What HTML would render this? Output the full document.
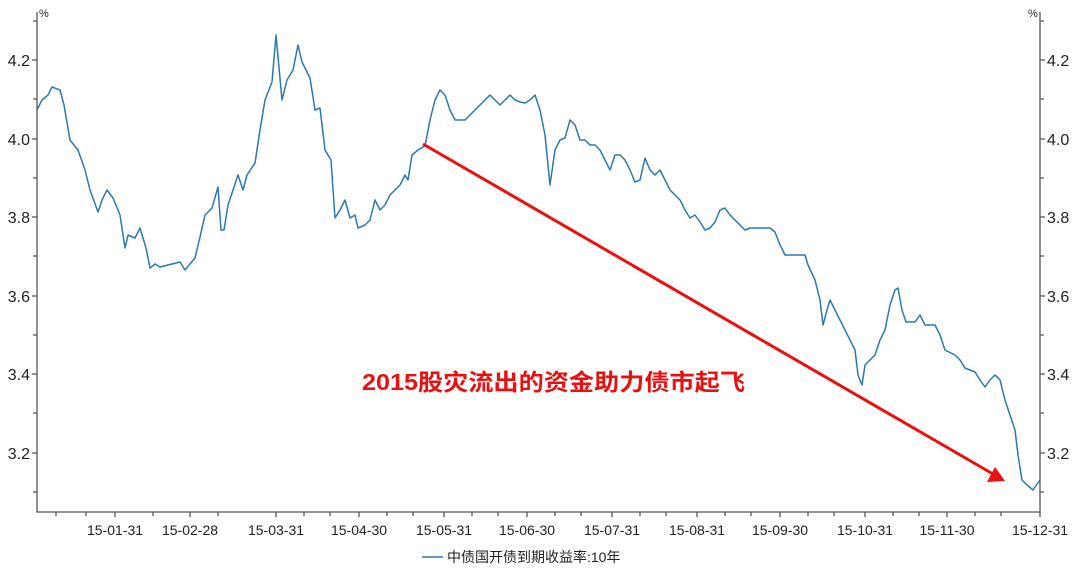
<!DOCTYPE html>
<html><head><meta charset="utf-8"><style>
body{margin:0;background:#fff}
svg text{font-family:"Liberation Sans","Noto Sans CJK SC",sans-serif;fill:#222}
</style></head><body>
<svg width="1080" height="570" xmlns="http://www.w3.org/2000/svg">
<g stroke="#555" stroke-width="1.3" fill="none">
<path d="M37,12V512H1040V12"/>
<path d="M32,60H37M32,139H37M32,217H37M32,296H37M32,374H37M32,453H37M33,21H37M33,99H37M33,178H37M33,256H37M33,335H37M33,413H37M33,492H37"/>
<path d="M1040,60H1045M1040,139H1045M1040,217H1045M1040,296H1045M1040,374H1045M1040,453H1045M1040,21H1044M1040,99H1044M1040,178H1044M1040,256H1044M1040,335H1044M1040,413H1044M1040,492H1044"/>
<path d="M115,512v5M190,512v5M276,512v5M359,512v5M444,512v5M527,512v5M612,512v5M697,512v5M780,512v5M865,512v5M947,512v5M1040,512v5"/>
<path d="M56,512v4M86,512v4M153,512v4M218,512v4M304,512v4M330,512v4M387,512v4M413,512v4M472,512v4M498,512v4M555,512v4M581,512v4M640,512v4M666,512v4M725,512v4M751,512v4M808,512v4M834,512v4M893,512v4M919,512v4M975,512v4M1001,512v4"/>
</g>
<g font-size="16">
<text x="30" y="66" text-anchor="end">4.2</text><text x="30" y="145" text-anchor="end">4.0</text><text x="30" y="223" text-anchor="end">3.8</text><text x="30" y="302" text-anchor="end">3.6</text><text x="30" y="380" text-anchor="end">3.4</text><text x="30" y="459" text-anchor="end">3.2</text>
<text x="1047" y="66">4.2</text><text x="1047" y="145">4.0</text><text x="1047" y="223">3.8</text><text x="1047" y="302">3.6</text><text x="1047" y="380">3.4</text><text x="1047" y="459">3.2</text>
</g>
<text x="39" y="17" font-size="11">%</text><text x="1028" y="17" font-size="11">%</text>
<g font-size="14" text-anchor="middle">
<text x="115" y="535">15-01-31</text><text x="190" y="535">15-02-28</text><text x="276" y="535">15-03-31</text><text x="359" y="535">15-04-30</text><text x="444" y="535">15-05-31</text><text x="527" y="535">15-06-30</text><text x="612" y="535">15-07-31</text><text x="697" y="535">15-08-31</text><text x="780" y="535">15-09-30</text><text x="865" y="535">15-10-31</text><text x="947" y="535">15-11-30</text><text x="1040" y="535">15-12-31</text>
</g>
<polyline fill="none" stroke="#2a7ab0" stroke-width="1.5" stroke-linejoin="round" points="37,110 42,100 48,95 52,87 60,90 64,105 70,140 78,150 85,170 90,190 98,212 102,200 107,190 113,198 120,215 125,248 128,235 135,238 140,228 146,248 150,268 155,264 160,267 180,262 185,270 190,264 195,258 200,237 205,215 212,208 218,187 221,230 224,230 228,205 238,175 243,190 247,175 255,163 260,130 265,100 272,82 276,35 282,100 287,80 293,70 298,45 302,62 310,78 315,110 320,108 325,150 331,160 335,218 340,210 345,200 350,218 355,215 358,228 365,225 370,220 375,200 380,210 385,205 390,195 395,190 400,185 405,175 408,180 412,155 418,150 425,146 430,120 435,100 440,90 445,95 450,110 455,120 460,120 465,120 470,115 475,110 480,105 485,100 490,95 495,100 500,105 505,100 510,95 515,100 520,102 525,103 530,100 535,95 540,110 545,135 548,165 550,185 555,150 560,140 565,138 570,120 575,125 580,140 585,140 590,145 595,145 600,150 605,160 610,170 615,155 620,155 625,160 630,170 635,182 640,180 645,158 650,170 655,175 660,170 665,180 670,190 675,195 680,200 685,210 690,218 695,215 700,222 705,230 710,228 715,222 720,210 725,208 730,215 735,220 740,225 745,230 750,228 760,228 770,228 775,232 780,245 785,255 790,255 800,255 805,255 808,265 815,280 820,300 823,325 827,310 830,300 835,310 840,320 845,330 850,340 855,350 858,375 862,385 865,365 870,360 875,355 880,340 885,330 890,305 895,290 898,288 902,310 906,322 915,322 920,315 925,325 935,325 940,335 945,350 955,355 960,360 965,368 970,370 975,372 980,380 985,387 990,380 995,375 1000,380 1005,400 1010,415 1015,430 1018,455 1022,480 1027,485 1033,490 1040,480"/>
<line x1="423" y1="144" x2="993" y2="474" stroke="#e81010" stroke-width="3"/>
<polygon points="1005,481 987,482 995,467" fill="#e81010"/>
<text x="362" y="390" font-size="23" font-weight="bold" textLength="383" lengthAdjust="spacingAndGlyphs" style="fill:#e81010">2015股灾流出的资金助力债市起飞</text>
<line x1="422" y1="557" x2="443" y2="557" stroke="#2a7ab0" stroke-width="1.5"/>
<text x="447" y="562" font-size="14">中债国开债到期收益率:10年</text>
</svg>
</body></html>
